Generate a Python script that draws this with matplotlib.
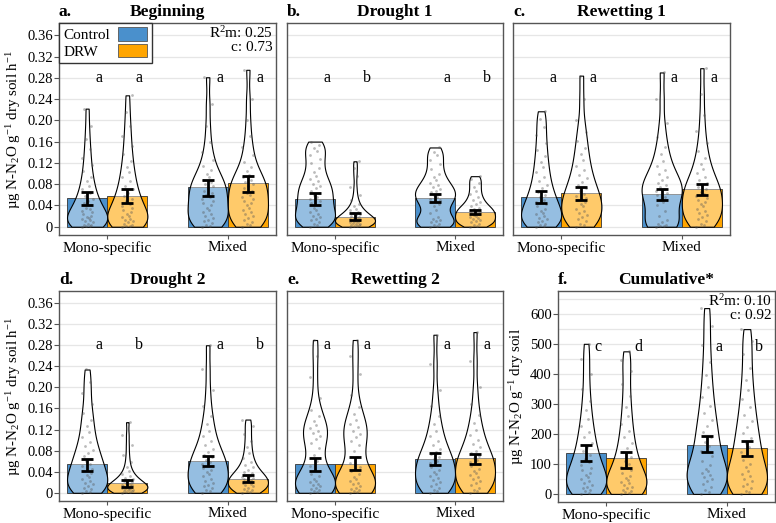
import numpy as np
import matplotlib
matplotlib.use('Agg')
import matplotlib.pyplot as plt
from matplotlib.patches import Rectangle

plt.rcParams['font.family'] = ['Liberation Serif', 'DejaVu Serif']
plt.rcParams['mathtext.fontset'] = 'custom'
plt.rcParams['mathtext.rm'] = 'Liberation Serif'
plt.rcParams['mathtext.it'] = 'Liberation Serif:italic'
plt.rcParams['mathtext.bf'] = 'Liberation Serif:bold'

# ---- data ----
groups = ['Mono-specific', 'Mixed']
treatments = ['Control', 'DRW']
panel_tags = ['a.', 'b.', 'c.', 'd.', 'e.', 'f.']
panel_titles = ['Beginning', 'Drought 1', 'Rewetting 1', 'Drought 2', 'Rewetting 2', 'Cumulative*']

# bar heights, order: mono control, mono DRW, mixed control, mixed DRW
bar_means = [
    [0.054, 0.058, 0.074, 0.082],
    [0.053, 0.018, 0.054, 0.028],
    [0.056, 0.063, 0.061, 0.070],
    [0.054, 0.018, 0.061, 0.027],
    [0.054, 0.055, 0.065, 0.066],
    [136, 118, 163, 153],
]
err_low = [
    [0.040, 0.044, 0.058, 0.066],
    [0.041, 0.012, 0.046, 0.023],
    [0.045, 0.050, 0.050, 0.060],
    [0.042, 0.011, 0.050, 0.021],
    [0.041, 0.043, 0.052, 0.054],
    [108, 85, 138, 125],
]
err_high = [
    [0.066, 0.071, 0.088, 0.095],
    [0.063, 0.025, 0.061, 0.031],
    [0.067, 0.074, 0.070, 0.081],
    [0.064, 0.024, 0.070, 0.033],
    [0.066, 0.067, 0.076, 0.074],
    [163, 140, 193, 176],
]
sig_letters = [
    ['a', 'a', 'a', 'a'],
    ['a', 'b', 'a', 'b'],
    ['a', 'a', 'a', 'a'],
    ['a', 'b', 'a', 'b'],
    ['a', 'a', 'a', 'a'],
    ['c', 'd', 'a', 'b'],
]
model_stats = {0: 'R$^2$m: 0.25\nc: 0.73', 5: 'R$^2$m: 0.10\nc: 0.92'}

# individual observations per group (mono control, mono DRW, mixed control, mixed DRW)
samples_beginning = [
    [0, .001, .002, .003, .004, .006, .008, .010, .012, .014, .016, .018, .021, .024, .027, .030, .033, .036,
     .040, .044, .048, .053, .058, .064, .070, .077, .085, .094, .104, .116, .130, .146, .165, .190, .222],
    [0, .001, .002, .004, .006, .008, .010, .012, .015, .018, .021, .024, .027, .031, .035, .039, .043,
     .048, .053, .058, .064, .070, .077, .085, .093, .102, .112, .124, .137, .152, .170, .190, .215, .247],
    [0, .002, .004, .007, .010, .013, .016, .020, .024, .028, .032, .036, .040, .044, .048, .052, .056, .060,
     .064, .068, .072, .076, .080, .084, .088, .093, .099, .106, .115, .126, .140, .160, .190, .230, .281],
    [0, .003, .006, .009, .012, .016, .020, .024, .028, .032, .036, .040, .044, .048, .052, .056, .060, .064,
     .068, .072, .076, .080, .084, .088, .093, .098, .104, .112, .122, .135, .150, .170, .200, .240, .295],
]
samples_drought1 = [
    [0, .003, .006, .009, .012, .015, .018, .021, .024, .028, .032, .036, .040, .044, .048, .052, .056, .060,
     .064, .068, .072, .076, .080, .085, .090, .096, .103, .111, .119, .127, .135, .142, .148, .154, .160],
    [0, .001, .002, .003, .004, .005, .006, .007, .008, .009, .010, .011, .012, .013, .014, .015, .016,
     .017, .018, .020, .022, .024, .026, .028, .031, .034, .038, .043, .050, .060, .075, .095, .110, .123],
    [0, .002, .004, .006, .008, .010, .012, .015, .019, .025, .032, .038, .043, .047, .050, .053, .056,
     .059, .062, .065, .068, .071, .074, .078, .082, .087, .093, .100, .108, .117, .126, .134, .141, .149],
    [0, .002, .004, .006, .008, .010, .012, .014, .016, .018, .020, .022, .024, .026, .028, .030, .032,
     .034, .036, .039, .042, .046, .050, .055, .061, .068, .075, .082, .089, .095],
]
samples_rewetting1 = [
    [0, .002, .004, .006, .008, .011, .014, .017, .020, .023, .026, .030, .034, .038, .042, .046, .050,
     .055, .060, .066, .072, .079, .086, .094, .103, .112, .122, .133, .145, .158, .172, .188, .203, .217],
    [0, .003, .006, .010, .014, .018, .022, .026, .030, .034, .038, .042, .046, .050, .054, .058, .062,
     .067, .072, .078, .084, .091, .098, .106, .115, .125, .136, .148, .162, .178, .200, .240, .284],
    [0, .001, .002, .004, .006, .009, .013, .020, .030, .040, .046, .051, .055, .059, .063, .067,
     .071, .075, .079, .083, .088, .093, .099, .106, .114, .124, .136, .150, .168, .195, .240, .290],
    [0, .003, .006, .010, .014, .018, .022, .026, .030, .034, .038, .042, .046, .050, .054, .058, .062,
     .066, .070, .074, .078, .083, .088, .094, .101, .109, .118, .129, .142, .158, .180, .210, .250, .298],
]
samples_drought2 = [
    [0, .002, .004, .007, .010, .013, .016, .019, .022, .026, .030, .034, .038, .042, .046, .050, .055,
     .060, .065, .070, .076, .082, .089, .097, .106, .116, .127, .139, .152, .168, .190, .210, .234],
    [0, .001, .002, .003, .004, .005, .006, .007, .008, .009, .010, .011, .012, .013, .014, .015,
     .016, .018, .020, .022, .024, .026, .029, .032, .036, .041, .048, .058, .072, .090, .110, .134],
    [0, .003, .006, .009, .012, .015, .019, .023, .027, .031, .035, .039, .043, .047, .051, .055,
     .059, .063, .067, .072, .077, .083, .090, .098, .107, .118, .130, .145, .165, .195, .235, .280],
    [0, .002, .004, .006, .008, .010, .012, .014, .016, .018, .020, .022, .024, .026, .028, .030,
     .032, .034, .037, .040, .044, .048, .053, .059, .066, .075, .086, .098, .112, .126, .139],
]
samples_rewetting2 = [
    [0, .002, .004, .006, .008, .010, .012, .014, .017, .020, .023, .027, .031, .036, .042, .050, .060,
     .072, .085, .095, .102, .108, .113, .118, .123, .129, .136, .145, .158, .180, .220, .260, .290],
    [0, .002, .004, .006, .008, .010, .013, .016, .019, .022, .026, .030, .035, .041, .048, .057,
     .068, .080, .091, .099, .106, .112, .118, .124, .131, .139, .149, .162, .185, .225, .260, .290],
    [0, .003, .006, .009, .012, .016, .020, .024, .028, .032, .036, .040, .044, .048, .052, .056,
     .060, .064, .068, .073, .078, .084, .091, .099, .108, .118, .130, .145, .165, .195, .245, .300],
    [0, .003, .006, .010, .014, .018, .022, .026, .030, .034, .038, .042, .046, .050, .054, .058,
     .062, .066, .070, .075, .080, .086, .093, .101, .110, .120, .132, .147, .168, .200, .250, .305],
]
samples_cumulative = [
    [0, 4, 8, 13, 18, 24, 30, 36, 42, 48, 55, 62, 70, 78, 87, 96, 106,
     117, 129, 142, 156, 171, 188, 206, 226, 250, 278, 310, 350, 400, 450, 500],
    [0, 3, 6, 10, 14, 19, 24, 29, 35, 41, 47, 54, 61, 69, 78, 88, 99,
     111, 124, 138, 153, 170, 189, 210, 234, 260, 290, 325, 365, 410, 445, 475],
    [0, 6, 14, 24, 34, 42, 50, 56, 62, 68, 75, 84, 96, 110, 126, 142,
     158, 174, 190, 207, 225, 245, 268, 294, 323, 356, 395, 440, 495, 560, 619],
    [0, 5, 11, 18, 26, 34, 42, 50, 58, 67, 77, 88, 100, 113, 127, 141,
     156, 171, 187, 204, 222, 242, 264, 288, 315, 345, 380, 420, 465, 510, 549],
]
all_samples = [samples_beginning, samples_drought1, samples_rewetting1,
               samples_drought2, samples_rewetting2, samples_cumulative]

# ---- style ----
COLORS = ['#4A90CC', '#FFA500']
EDGE = '#555555'
GRID = '#e6e6e6'
BAR_W = 1 / 3
JITTER = np.array([-0.045, 0.02, -0.01, 0.035, -0.03, 0.005, 0.045, -0.02,
                   0.025, -0.04, 0.012, -0.005, 0.03, -0.035, 0.04])

W, H = 776, 523
fig = plt.figure(figsize=(W / 100, H / 100), dpi=100)


def px_axes(left, top, right, bottom):
    return fig.add_axes([left / W, 1 - bottom / H, (right - left) / W, (bottom - top) / H])


axes = [
    px_axes(59, 23, 276, 235),
    px_axes(287, 23, 503, 235),
    px_axes(513, 23, 730, 235),
    px_axes(59, 291, 276, 501),
    px_axes(287, 291, 503, 501),
    px_axes(558, 291, 775, 502),
]

ylabel_rate = 'µg N-N$_2$O g$^{-1}$ dry soil h$^{-1}$'
ylabel_cum = 'µg N-N$_2$O g$^{-1}$ dry soil'


def draw_panel(ax, i):
    cumulative = i == 5
    positions = []
    for g in range(len(groups)):
        for t in range(len(treatments)):
            positions.append(g + 1 + (t - 0.5) * BAR_W)
    colors = [COLORS[t] for g in range(len(groups)) for t in range(len(treatments))]

    ax.bar(positions, bar_means[i], width=BAR_W, color=colors,
           edgecolor='#333333', linewidth=0.6, zorder=2)

    parts = ax.violinplot(all_samples[i], positions=positions, widths=BAR_W,
                          showextrema=False, bw_method=0.3)
    for body in parts['bodies']:
        body.set_alpha(None)
        body.set_facecolor((1, 1, 1, 0.42))
        body.set_edgecolor('black')
        body.set_linewidth(0.8)
        body.set_zorder(3)

    for pos, vals in zip(positions, all_samples[i]):
        jit = np.resize(JITTER, len(vals))
        ax.scatter(pos + jit, vals, s=4, color='#555555', alpha=0.4,
                   linewidths=0, zorder=4)

    means = np.array(bar_means[i])
    yerr = [means - np.array(err_low[i]), np.array(err_high[i]) - means]
    ax.errorbar(positions, means, yerr=yerr, fmt='none', ecolor='black',
                elinewidth=2, capsize=4.2, capthick=2, zorder=5)

    letter_y = 490 if cumulative else 0.28
    for pos, letter in zip(positions, sig_letters[i]):
        ax.text(pos + 0.1, letter_y, letter, ha='center', va='center',
                fontsize=11.5, zorder=6)

    if cumulative:
        ax.set_ylim(-27, 676)
        ax.set_yticks(np.arange(0, 601, 100))
        ax.set_yticks(np.arange(0, 651, 50), minor=True)
    else:
        ax.set_ylim(-0.0156, 0.383)
        ax.set_yticks(np.arange(0, 0.361, 0.04))
    ax.set_xlim(0.6, 2.4)
    ax.set_xticks([1, 2])
    ax.set_xticklabels(groups, fontsize=11)

    ax.grid(axis='y', which='both', color=GRID, linewidth=0.9, zorder=0)
    ax.set_axisbelow(True)
    ax.tick_params(axis='x', which='major', length=3, color=EDGE, pad=1.5)
    ax.tick_params(axis='y', which='major', length=3.5, color=EDGE,
                   labelsize=10.5, pad=1)
    ax.tick_params(axis='y', which='minor', length=0)
    for sp in ax.spines.values():
        sp.set_color(EDGE)
        sp.set_linewidth(1.0)

    if i in (0, 3):
        ax.set_yticklabels(['0'] + [f'{v:.2f}' for v in np.arange(0.04, 0.361, 0.04)])
        ax.set_ylabel(ylabel_rate, fontsize=10.8, labelpad=3)
    elif cumulative:
        ax.set_ylabel(ylabel_cum, fontsize=10.8, labelpad=3)
    else:
        ax.tick_params(axis='y', which='both', left=False, labelleft=False)

    ax.set_title(panel_tags[i], loc='left', fontweight='bold', fontsize=12.5, pad=5)
    ax.set_title(panel_titles[i], loc='center', fontweight='bold', fontsize=12.5, pad=5)

    if i in model_stats:
        ax.text(0.985, 0.99, model_stats[i], transform=ax.transAxes, ha='right',
                va='top', fontsize=11, linespacing=1.0, zorder=6)


for i, ax in enumerate(axes):
    draw_panel(ax, i)

# legend box drawn by hand so labels sit left-aligned with the keys on the right
ax0 = axes[0]
ax0.add_patch(Rectangle((0, 0.813), 0.4286, 0.187, transform=ax0.transAxes,
                        facecolor='white', edgecolor='#333333', linewidth=1.0,
                        clip_on=False, zorder=7))
legend_rows = [(0.925, 0.9165, 0.0632), (0.846, 0.838, 0.0613)]
for (text_y, key_y, key_h), label, color in zip(legend_rows, treatments, COLORS):
    ax0.text(0.02, text_y, label, transform=ax0.transAxes, ha='left',
             va='baseline', fontsize=11, zorder=8)
    ax0.add_patch(Rectangle((0.2705, key_y), 0.1336, key_h, transform=ax0.transAxes,
                            facecolor=color, edgecolor='#555555', linewidth=0.6,
                            clip_on=False, zorder=8))

fig.savefig('out.png', dpi=100)
